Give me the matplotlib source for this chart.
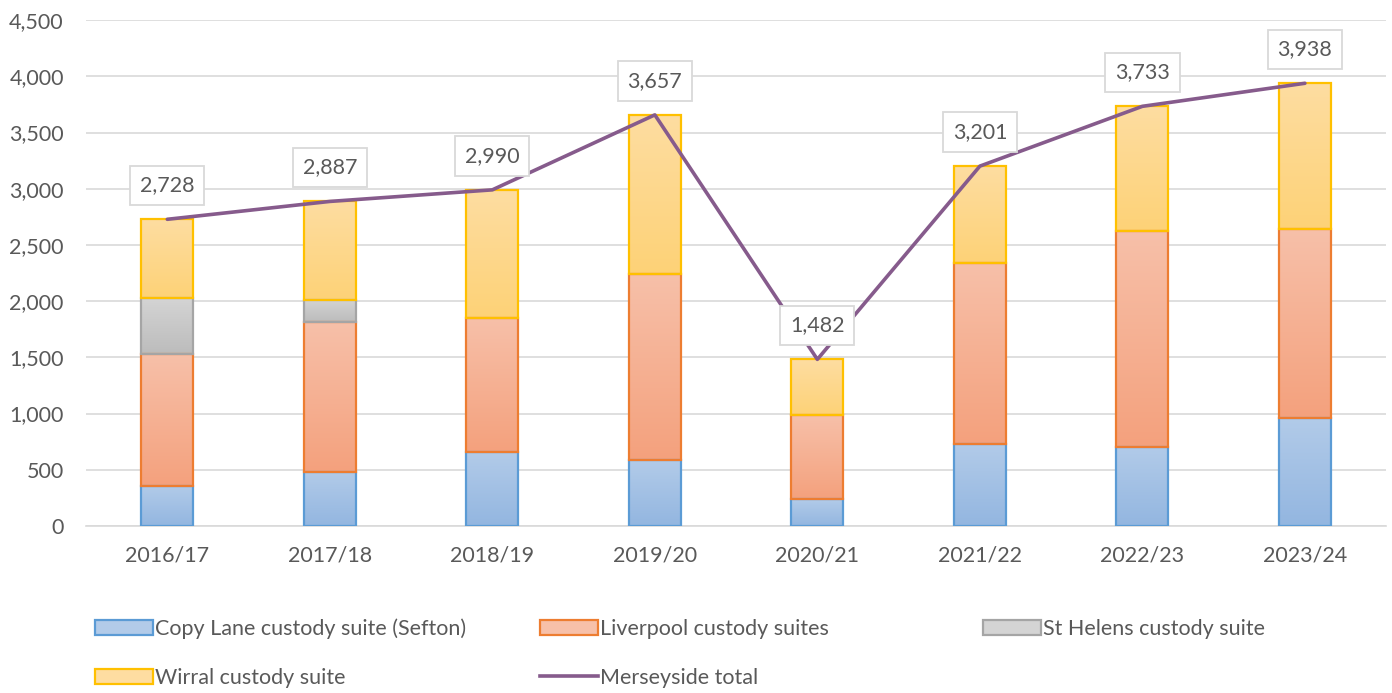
import matplotlib
matplotlib.use("Agg")
import matplotlib.pyplot as plt
import numpy as np
from matplotlib.colors import to_rgb
from matplotlib.patches import Rectangle
from matplotlib.lines import Line2D
from matplotlib.ticker import FuncFormatter, MultipleLocator

years = ["2016/17", "2017/18", "2018/19", "2019/20", "2020/21", "2021/22", "2022/23", "2023/24"]
copy_lane = [356, 483, 658, 587, 240, 727, 705, 963]
liverpool = [1174, 1331, 1195, 1651, 747, 1609, 1919, 1678]
st_helens = [498, 196, 0, 0, 0, 0, 0, 0]
wirral = [700, 877, 1137, 1419, 495, 865, 1109, 1297]
totals = [2728, 2887, 2990, 3657, 1482, 3201, 3733, 3938]

series = [
    ("Copy Lane custody suite (Sefton)", copy_lane, "#5b9bd5", "#b2cbe9", "#93b6e0"),
    ("Liverpool custody suites", liverpool, "#ed7d31", "#f7c0a9", "#f4a17d"),
    ("St Helens custody suite", st_helens, "#a5a5a5", "#d4d4d4", "#bcbcbc"),
    ("Wirral custody suite", wirral, "#ffc000", "#fedda1", "#fdd277"),
]
line_color = "#865b8c"
text_color = "#595959"

plt.rcParams["font.family"] = ["Lato", "DejaVu Sans"]
plt.rcParams["font.size"] = 15

fig = plt.figure(figsize=(13.92, 6.93), dpi=100)
ax = fig.add_axes([0.0618, 0.241, 0.934, 0.730])

x = np.arange(len(years))
width = 0.32


def gradient(top, bottom, n=128):
    t = np.linspace(0, 1, n)[:, None, None]
    return (1 - t) * np.array(to_rgb(top)) + t * np.array(to_rgb(bottom))


bottoms = np.zeros(len(years))
handles = []
for name, vals, edge, top, bot in series:
    grad = gradient(top, bot)
    for xi, v, b in zip(x, vals, bottoms):
        if v <= 0:
            continue
        rect = Rectangle((xi - width / 2, b), width, v, facecolor="none",
                         edgecolor=edge, linewidth=1.6, zorder=3)
        ax.add_patch(rect)
        im = ax.imshow(np.repeat(grad, 2, axis=1), extent=[xi - width / 2, xi + width / 2, b, b + v],
                       aspect="auto", origin="upper", zorder=2)
        im.set_clip_path(rect)
    bottoms += np.array(vals)
    handles.append(Rectangle((0, 0), 1, 1, facecolor=top, edgecolor=edge, linewidth=1.6))

ax.plot(x, totals, color=line_color, linewidth=2.6, zorder=4, solid_capstyle="round")
handles.append(Line2D([0], [0], color=line_color, linewidth=2.6))

for xi, t in zip(x, totals):
    ax.annotate(f"{t:,}", (xi, t), xytext=(0, 34), textcoords="offset pixels",
                ha="center", va="center", color=text_color, fontsize=15.5, zorder=6,
                bbox=dict(boxstyle="square,pad=0.45", fc="white", ec="#d9d9d9", lw=1.3))

ax.set_xlim(-0.5, len(years) - 0.5)
ax.set_ylim(0, 4500)
ax.yaxis.set_major_locator(MultipleLocator(500))
ax.yaxis.set_major_formatter(FuncFormatter(lambda v, p: f"{int(v):,}"))
ax.set_xticks(x)
ax.set_xticklabels(years)
ax.grid(axis="y", color="#d9d9d9", linewidth=1.2, zorder=0)
ax.set_axisbelow(True)
for s in ["top", "right", "left"]:
    ax.spines[s].set_visible(False)
ax.spines["bottom"].set_color("#d9d9d9")
ax.spines["bottom"].set_linewidth(1.2)
ax.tick_params(axis="both", length=0, colors=text_color, labelsize=15.5)
ax.tick_params(axis="y", pad=16)
ax.tick_params(axis="x", pad=14)

labels = [s[0] for s in series] + ["Merseyside total"]
spots = [(0.0682, 0.0924), (0.388, 0.0924), (0.706, 0.0924), (0.0682, 0.0216), (0.388, 0.0216)]
for h, lab, (lx, ly) in zip(handles, labels, spots):
    leg = fig.legend([h], [lab], loc="center left", bbox_to_anchor=(lx, ly), frameon=False,
                     borderpad=0, borderaxespad=0, handlelength=2.7, handleheight=0.7,
                     handletextpad=0.1, fontsize=15.5)
    for t in leg.get_texts():
        t.set_color(text_color)

fig.savefig("out.png", dpi=100)
